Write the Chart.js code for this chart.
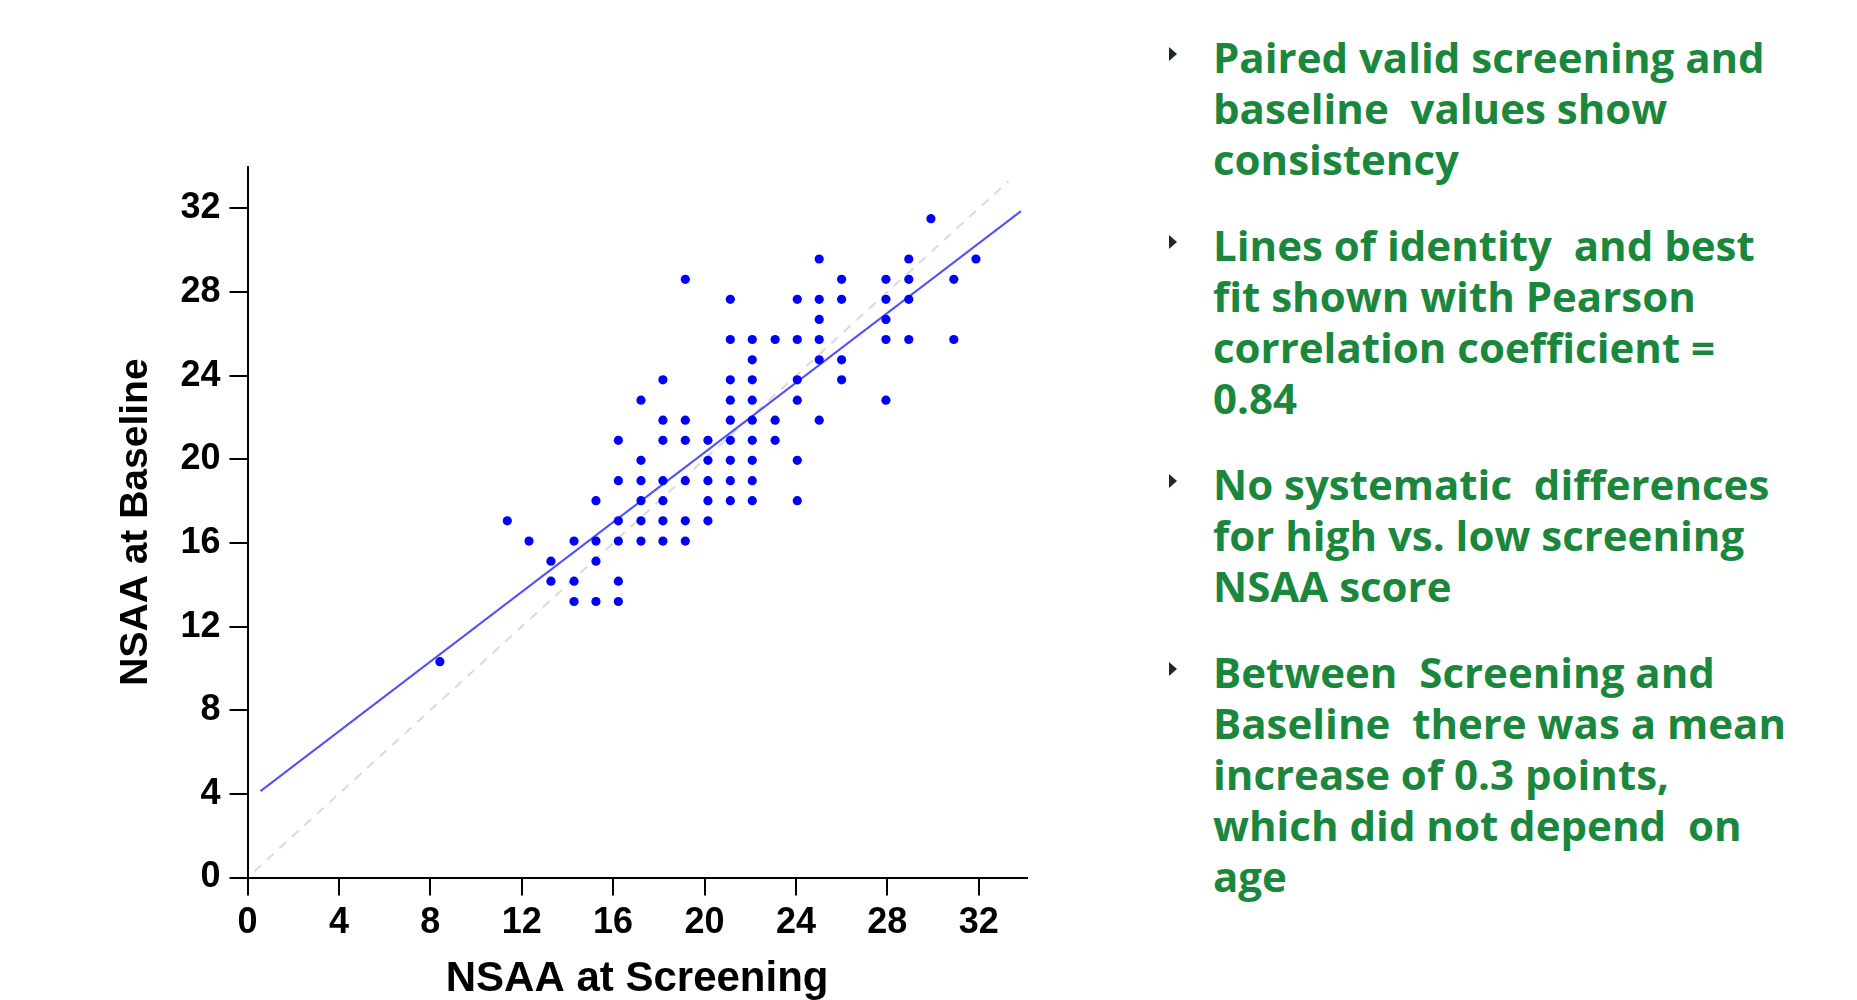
<!DOCTYPE html>
<html>
<head>
<meta charset="utf-8">
<script src="https://cdn.jsdelivr.net/npm/chart.js@4.4.1/dist/chart.umd.min.js"></script>
<style>
  html, body { margin: 0; padding: 0; background: #fff; overflow: hidden; }
  #chart { position: absolute; left: 0; top: 0; }
  .notes {
    position: absolute; left: 1213px; top: 31px;
    font-family: "Open Sans", sans-serif; font-weight: 700;
    font-size: 42px; line-height: 51px; color: #1a873d;
  }
  .notes p { margin: 0 0 35px 0; position: relative; white-space: pre; }
  .notes p::before {
    content: ""; position: absolute; left: -44px; top: 16px;
    border-left: 8px solid #1c2a1f; border-top: 7px solid transparent; border-bottom: 7px solid transparent;
  }
</style>
</head>
<body>
<canvas id="chart" width="1100" height="1000"></canvas>
<div class="notes"><p>Paired valid screening and
baseline  values show
consistency</p><p>Lines of identity  and best
fit shown with Pearson
correlation coefficient =
0.84</p><p>No systematic  differences
for high vs. low screening
NSAA score</p><p>Between  Screening and
Baseline  there was a mean
increase of 0.3 points,
which did not depend  on
age</p></div>
<script>
// NSAA scores, one entry per dot (screening -> baseline)
const screeningScores = [
  8.42,
  11.37,
  12.32,
  13.28, 13.28,
  14.29, 14.29, 14.29,
  15.25, 15.25, 15.25, 15.25,
  16.23, 16.23, 16.23, 16.23, 16.23, 16.23,
  17.22, 17.22, 17.22, 17.22, 17.22, 17.22,
  18.18, 18.18, 18.18, 18.18, 18.18, 18.18, 18.18,
  19.16, 19.16, 19.16, 19.16, 19.16, 19.16,
  20.15, 20.15, 20.15, 20.15, 20.15,
  21.13, 21.13, 21.13, 21.13, 21.13, 21.13, 21.13, 21.13, 21.13,
  22.09, 22.09, 22.09, 22.09, 22.09, 22.09, 22.09, 22.09, 22.09,
  23.09, 23.09, 23.09,
  24.06, 24.06, 24.06, 24.06, 24.06, 24.06,
  25.02, 25.02, 25.02, 25.02, 25.02, 25.02,
  26.0, 26.0, 26.0, 26.0,
  27.94, 27.94, 27.94, 27.94, 27.94,
  28.94, 28.94, 28.94, 28.94,
  29.91,
  30.91, 30.91,
  31.88
];
const baselineScores = [
  10.32,
  17.06,
  16.09,
  15.13, 14.17,
  16.09, 14.17, 13.2,
  18.02, 16.09, 15.13, 13.2,
  20.91, 18.98, 17.06, 16.09, 14.17, 13.2,
  22.83, 19.95, 18.98, 18.02, 17.06, 16.09,
  23.8, 21.87, 20.91, 18.98, 18.02, 17.06, 16.09,
  28.61, 21.87, 20.91, 18.98, 17.06, 16.09,
  20.91, 19.95, 18.98, 18.02, 17.06,
  27.65, 25.73, 23.8, 22.83, 21.87, 20.91, 19.95, 18.98, 18.02,
  25.73, 24.76, 23.8, 22.83, 21.87, 20.91, 19.95, 18.98, 18.02,
  25.73, 21.87, 20.91,
  27.65, 25.73, 23.8, 22.83, 19.95, 18.02,
  29.58, 27.65, 26.69, 25.73, 24.76, 21.87,
  28.61, 27.65, 24.76, 23.8,
  28.61, 27.65, 26.69, 25.73, 22.83,
  29.58, 28.61, 27.65, 25.73,
  31.51,
  28.61, 25.73,
  29.58
];

// line of best fit and line of identity, end points
const fitLineX = [0.57, 33.85];
const fitLineY = [4.13, 31.87];
const identityX = [0.3, 33.3];
const identityY = [0.3, 33.3];

const tickStep = 4;

function toPoints(xs, ys) {
  return xs.map((x, i) => ({ x: x, y: ys[i] }));
}

const axisFont = { family: '"Liberation Sans", Arial, sans-serif', weight: 'bold', size: 36 };

new Chart(document.getElementById('chart'), {
  type: 'scatter',
  data: {
    datasets: [
      {
        data: toPoints(screeningScores, baselineScores),
        backgroundColor: '#0000ff',
        borderWidth: 0,
        pointRadius: 4.6
      },
      {
        data: toPoints(fitLineX, fitLineY),
        showLine: true,
        borderColor: '#5252f5',
        borderWidth: 2,
        pointRadius: 0
      },
      {
        data: toPoints(identityX, identityY),
        showLine: true,
        borderColor: '#dadada',
        borderWidth: 2,
        borderDash: [9, 8],
        pointRadius: 0
      }
    ]
  },
  options: {
    responsive: false,
    animation: false,
    layout: { padding: { left: 0, right: 73.3, top: 166.6, bottom: 0 } },
    plugins: { legend: { display: false }, tooltip: { enabled: false } },
    scales: {
      x: {
        type: 'linear',
        min: 0,
        max: 34.1,
        afterFit: function (scale) { scale.height = 122.5; },
        border: { display: true, color: '#000', width: 2 },
        grid: { drawOnChartArea: false, drawTicks: true, tickLength: 18, color: '#000', lineWidth: 2 },
        ticks: { stepSize: tickStep, includeBounds: false, color: '#000', padding: 6, font: axisFont },
        title: {
          display: true,
          text: 'NSAA at Screening',
          color: '#000',
          padding: { top: 0, bottom: 0 },
          font: { family: '"Liberation Sans", Arial, sans-serif', weight: 'bold', size: 42, lineHeight: 1.0 }
        }
      },
      y: {
        type: 'linear',
        min: 0,
        max: 34,
        afterFit: function (scale) { scale.width = 247.5; },
        border: { display: true, color: '#000', width: 2 },
        grid: { drawOnChartArea: false, drawTicks: true, tickLength: 18, color: '#000', lineWidth: 2 },
        ticks: { stepSize: tickStep, includeBounds: false, color: '#000', padding: 9, font: axisFont },
        title: {
          display: true,
          text: 'NSAA at Baseline',
          color: '#000',
          padding: { top: 113, bottom: 0 },
          font: { family: '"Liberation Sans", Arial, sans-serif', weight: 'bold', size: 39, lineHeight: 1.2 }
        }
      }
    }
  }
});
</script>
</body>
</html>
